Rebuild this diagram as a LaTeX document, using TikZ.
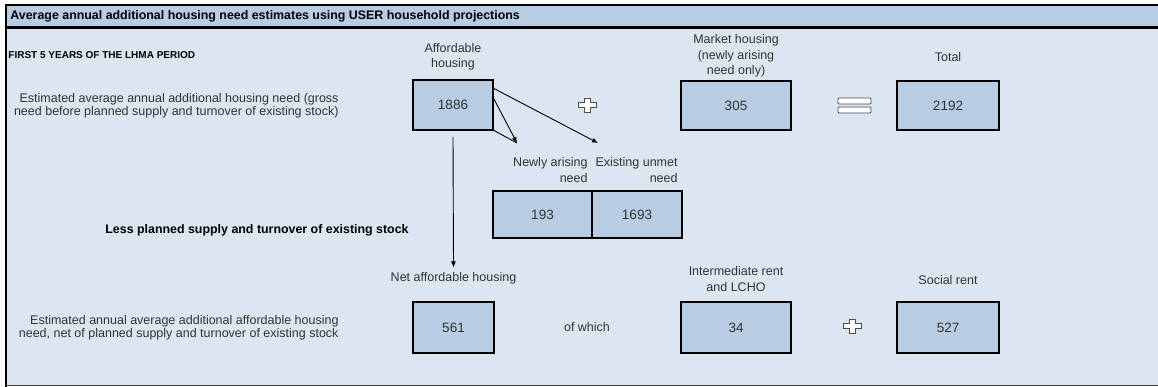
\documentclass[tikz,border=0pt]{standalone}
\usepackage{fontspec}
\setmainfont{Liberation Sans}
\usetikzlibrary{arrows.meta,positioning}

\definecolor{bodyblue}{HTML}{DCE6F1}
\definecolor{barblue}{HTML}{B8CCE4}
\definecolor{boxblue}{HTML}{B8CCE4}
\definecolor{txtgrey}{HTML}{333333}

\tikzset{
  numbox/.style={draw=black, line width=1.6pt, fill=boxblue, text=txtgrey,
    font=\fontsize{13.5}{15}\selectfont, inner sep=0pt, outer sep=0pt},
  lbl/.style={align=center, text=txtgrey, font=\fontsize{12.5}{15.5}\selectfont, inner sep=1pt},
  sidetext/.style={align=right, text=txtgrey, font=\fontsize{12.5}{13.5}\selectfont, inner sep=0pt},
  plussign/.pic={
    \draw[fill=white, draw=black!70, line width=0.8pt]
      (-9,-2.5) -- (-3,-2.5) -- (-3,-7) -- (3,-7) -- (3,-2.5) -- (9,-2.5)
      -- (9,2.5) -- (3,2.5) -- (3,7) -- (-3,7) -- (-3,2.5) -- (-9,2.5) -- cycle;
  }
}

\begin{document}
\begin{tikzpicture}[x=1pt,y=-1pt,>={Latex[length=6pt,width=5pt]},line width=0.9pt]
  \useasboundingbox (0,0) rectangle (1158,387);
  % background and frame
  \fill[bodyblue] (6,5) rectangle (1158,386);
  \fill[barblue] (6,5) rectangle (1158,28);
  \draw[line width=3pt] (6,28) -- (1158,28);
  \draw[line width=2pt] (1158,5) -- (6,5) -- (6,387);
  \draw[line width=1.5pt, black!75] (6,385.5) -- (1158,385.5);
  \node[anchor=west, inner sep=0pt, font=\fontsize{12.4}{14}\selectfont\bfseries] (title) at (10,16)
    {Average annual additional housing need estimates using USER household projections};
  \node[anchor=west, inner sep=0pt, font=\fontsize{10}{12}\selectfont\bfseries] (period) at (8,55)
    {FIRST 5 YEARS OF THE LHMA PERIOD};

  % top row
  \node[numbox, minimum width=80, minimum height=50]  (aff)   at (453,105)   {1886};
  \node[numbox, minimum width=110, minimum height=49] (mkt)   at (736,105.5) {305};
  \node[numbox, minimum width=102, minimum height=49] (total) at (948,105.5) {2192};
  \node[lbl, above=8pt of aff]   (afflbl)   {Affordable\\housing};
  \node[lbl, above=2pt of mkt]   (mktlbl)   {Market housing\\(newly arising\\need only)};
  \node[lbl, above=18pt of total] (totallbl) {Total};
  \node[sidetext, anchor=east] (grosstxt) at (339,106)
    {Estimated average annual additional housing need (gross\\need before planned supply and turnover of existing stock)};
  \pic at (587,105) {plussign};
  \draw[fill=white, draw=black!70, line width=0.8pt, rounded corners=1pt] (838,98) rectangle (871,104);
  \draw[fill=white, draw=black!70, line width=0.8pt, rounded corners=1pt] (838,107) rectangle (871,113);

  % split of affordable need
  \node[numbox, minimum width=99, minimum height=47] (newneed) at (542.5,214.5) {193};
  \node[numbox, minimum width=90, minimum height=47, right=0pt of newneed] (oldneed) {1693};
  \node[lbl, align=right, anchor=south east] (newlbl) at (589,184) {Newly arising\\need};
  \node[lbl, align=right, anchor=south east] (oldlbl) at (679,184) {Existing unmet\\need};
  \coordinate (newtip) at (517,143);
  \coordinate (oldtip) at (598,143);
  \path[->]
    (aff.23) edge (oldtip)
    (aff.11) edge (newtip)
    ;
  \draw (aff.south east) -- (newtip);

  \node[inner sep=0pt, font=\fontsize{12.4}{14}\selectfont\bfseries] (less) at (257,230)
    {Less planned supply and turnover of existing stock};

  % bottom row
  \node[numbox, minimum width=81, minimum height=51]  (net)    at (453.5,327.5) {561};
  \node[numbox, minimum width=110, minimum height=51] (inter)  at (736,327.5)   {34};
  \node[numbox, minimum width=102, minimum height=51] (social) at (948,327.5)   {527};
  \node[lbl, above=16pt of net]    (netlbl)    {Net affordable housing};
  \node[lbl, above=9pt of inter]   (interlbl)  {Intermediate rent\\and LCHO};
  \node[lbl, above=16pt of social] (sociallbl) {Social rent};
  \node[lbl] (ofwhich) at (587,327) {of which};
  \node[sidetext, anchor=east] (nettxt) at (339,328)
    {Estimated annual average additional affordable housing\\need, net of planned supply and turnover of existing stock};
  \pic at (852,326) {plussign};

  \draw[->] ([yshift=-7pt]aff.south) -- ([yshift=4pt]netlbl.north);
\end{tikzpicture}
\end{document}
